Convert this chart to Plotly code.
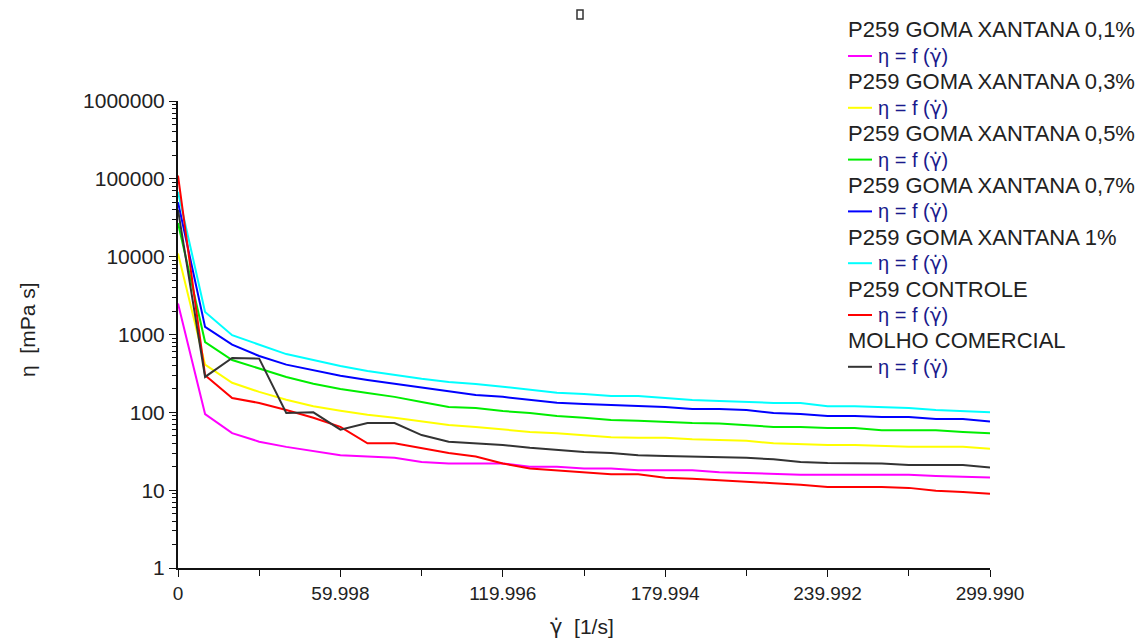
import plotly.graph_objects as go

shear_rate = [0, 10, 20, 30, 40, 50, 60, 70, 80, 90, 100, 110, 120, 130, 140, 150,
              160, 170, 180, 190, 200, 210, 220, 230, 240, 250, 260, 270, 280, 290, 299.99]

xg_01 = [2500, 95, 54, 42, 36, 32, 28, 27, 26, 23, 22, 22, 22, 20, 20, 19,
         19, 18, 18, 18, 17, 16.6, 16, 15.8, 15.8, 15.8, 15.8, 15.8, 15.2, 14.8, 14.5]
xg_03 = [11000, 410, 240, 183, 145, 120, 105, 93, 85, 76, 69, 65, 61, 56, 54, 51,
         48, 47, 47, 45, 44, 43, 40, 39, 38, 38, 37, 36, 36, 36, 34]
xg_05 = [27000, 800, 470, 370, 285, 233, 200, 177, 158, 136, 117, 114, 104, 98, 90, 85,
         80, 78, 75, 73, 72, 69, 65, 65, 63, 63, 59, 59, 59, 56, 54]
xg_07 = [50000, 1250, 740, 530, 410, 350, 295, 260, 233, 205, 183, 167, 158, 144, 133, 128,
         125, 120, 117, 110, 110, 107, 98, 95, 90, 90, 87, 87, 82, 82, 76]
xg_1 = [68000, 1950, 980, 735, 560, 470, 395, 340, 300, 270, 245, 232, 213, 194, 178, 172,
        162, 162, 154, 144, 140, 136, 132, 132, 120, 120, 117, 114, 107, 104, 100]
controle = [110000, 300, 153, 132, 107, 85, 65, 40, 40, 35, 30, 27, 22, 19, 18, 17,
            16, 16, 14.4, 14, 13.5, 12.8, 12.3, 11.7, 11, 11, 11, 10.7, 9.8, 9.5, 9.0]
comercial = [40000, 285, 500, 490, 98, 100, 60, 73, 73, 51, 42, 40, 38, 35, 33, 31,
             30, 28, 27.5, 27, 27, 26, 25, 23, 22.4, 22, 22, 21, 21, 21, 19.5]

series_names = ["P259 GOMA XANTANA 0,1%", "P259 GOMA XANTANA 0,3%", "P259 GOMA XANTANA 0,5%",
                "P259 GOMA XANTANA 0,7%", "P259 GOMA XANTANA 1%", "P259 CONTROLE",
                "MOLHO COMERCIAL"]
series_values = [xg_01, xg_03, xg_05, xg_07, xg_1, controle, comercial]
series_colors = ["#ff00ff", "#ffff00", "#00ee00", "#0000ff", "#00ffff", "#ff0000", "#333333"]
item_label = "η = f (<span style='font-family:DejaVu Sans'>γ̇</span>)"

x_tickvals = [0, 59.998, 119.996, 179.994, 239.992, 299.990]
x_ticktext = ["0", "59.998", "119.996", "179.994", "239.992", "299.990"]
y_tickvals = [1, 10, 100, 1000, 10000, 100000, 1000000]
y_ticktext = ["1", "10", "100", "1000", "10000", "100000", "1000000"]

# the page body has an 8px default margin; figure is sized to fit inside the window
OFF = 8
W, H = 1137, 631
L, T = 178 - OFF, 101 - OFF
R = W - (990 - OFF)
B = H - (568 - OFF)
PW, PH = W - L - R, H - T - B


def px(xpage):
    return (xpage - OFF - L) / PW


def py(ypage):
    return (H - B - (ypage - OFF)) / PH


fig = go.Figure()
for name, vals, col in zip(series_names, series_values, series_colors):
    fig.add_trace(go.Scatter(
        x=shear_rate, y=vals, mode="lines",
        line=dict(color=col, width=2),
        name=name, showlegend=False,
    ))

annotations = [
    dict(text="η  [mPa s]", xref="paper", yref="paper", x=px(27), y=py(330),
         xanchor="center", yanchor="middle",
         textangle=-90, showarrow=False, font=dict(size=21, color="#222222")),
    dict(text="<span style='font-family:DejaVu Sans'>γ̇</span>  [1/s]", xref="paper", yref="paper",
         x=px(582), y=py(627), xanchor="center", yanchor="middle",
         showarrow=False, font=dict(size=21, color="#222222")),
]
shapes = [
    dict(type="rect", xref="paper", yref="paper", x0=px(577), x1=px(583), y0=py(19), y1=py(10),
         line=dict(color="#333333", width=1.5), fillcolor="white"),
]

# legend built from the series lists
for i, (name, col) in enumerate(zip(series_names, series_colors)):
    ty = 30 + 51.8 * i
    iy = 56 + 51.8 * i
    annotations.append(dict(text=name, xref="paper", yref="paper", x=px(846), y=py(ty),
                            xanchor="left", yanchor="middle", showarrow=False,
                            font=dict(size=22, color="#222222")))
    annotations.append(dict(text=item_label, xref="paper", yref="paper", x=px(876), y=py(iy),
                            xanchor="left", yanchor="middle", showarrow=False,
                            font=dict(size=20, color="#1a1a8c")))
    shapes.append(dict(type="line", xref="paper", yref="paper", x0=px(848), x1=px(872),
                       y0=py(iy), y1=py(iy), line=dict(color=col, width=2)))

fig.update_layout(
    width=W, height=H,
    paper_bgcolor="white", plot_bgcolor="white",
    margin=dict(l=L, r=R, t=T, b=B, autoexpand=False),
    font=dict(family="Liberation Sans, Arial, sans-serif", size=19, color="#222222"),
    showlegend=False,
    xaxis=dict(
        range=[0, 299.99], showline=True, linecolor="#111111", linewidth=2,
        showgrid=False, zeroline=False,
        tickvals=x_tickvals, ticktext=x_ticktext,
        ticks="outside", ticklen=7, tickcolor="#111111", tickwidth=1,
        tickfont=dict(size=19),
        minor=dict(tickvals=[29.999, 89.997, 149.995, 209.993, 269.991],
                   ticks="outside", ticklen=6, tickcolor="#111111"),
    ),
    yaxis=dict(
        type="log", range=[0, 6], showline=True, linecolor="#111111", linewidth=2,
        showgrid=False, zeroline=False,
        tickvals=y_tickvals, ticktext=y_ticktext,
        ticks="outside", ticklen=7, tickcolor="#111111", tickwidth=1,
        tickfont=dict(size=21),
        minor=dict(ticks="outside", ticklen=4, dtick="D1", tickcolor="#111111", showgrid=False),
    ),
    annotations=annotations,
    shapes=shapes,
)

fig.write_html("out.html")
